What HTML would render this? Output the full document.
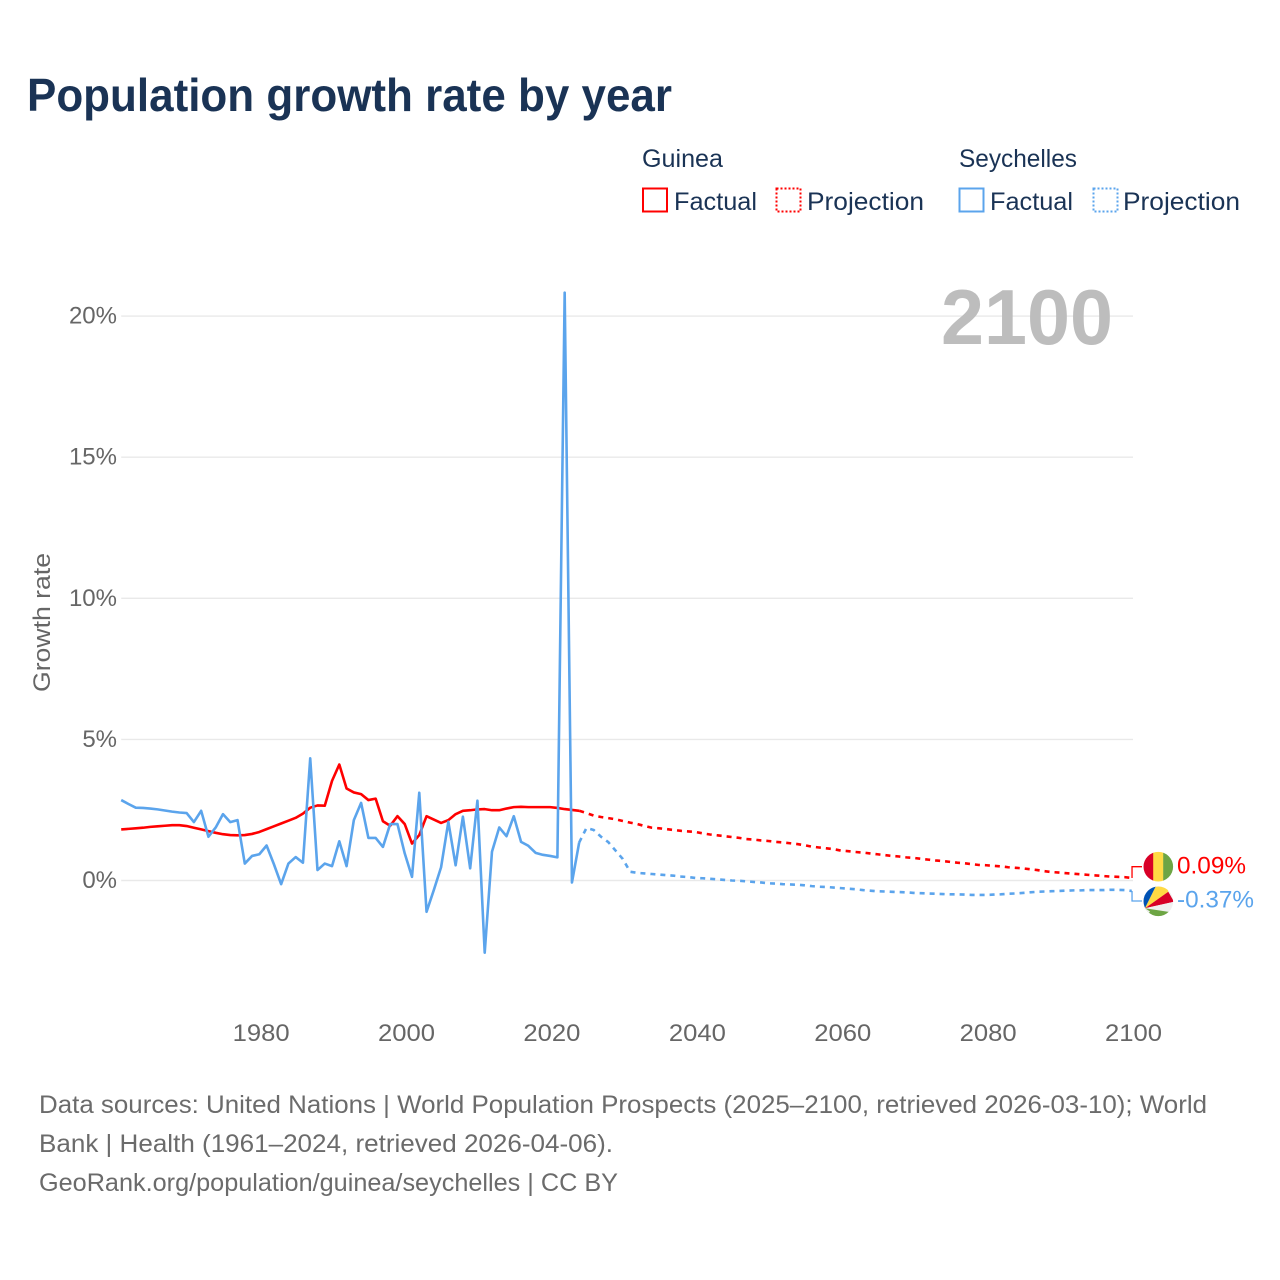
<!DOCTYPE html>
<html lang="en">
<head>
<meta charset="utf-8">
<title>Population growth rate by year</title>
<style>
html,body{margin:0;padding:0;background:#fff;width:1280px;height:1280px;overflow:hidden}
svg{display:block}
text{font-family:"Liberation Sans",sans-serif}
.tick{font-size:24px;fill:#666}
.legend{font-size:25px;fill:#1a3355}
.foot{font-size:25px;fill:#6b6b6b}
</style>
</head>
<body>
<svg id="chart" width="1280" height="1280" viewBox="0 0 1280 1280" xmlns="http://www.w3.org/2000/svg">
  <rect x="0" y="0" width="1280" height="1280" fill="#fff"/>
  <text x="27" y="111" font-size="46" font-weight="700" fill="#1a3355" textLength="645" lengthAdjust="spacingAndGlyphs">Population growth rate by year</text>

  <g>
    <text class="legend" x="642" y="167" textLength="81" lengthAdjust="spacingAndGlyphs">Guinea</text>
    <text class="legend" x="959" y="167" textLength="118" lengthAdjust="spacingAndGlyphs">Seychelles</text>
    <rect x="643" y="188.5" width="24" height="23" fill="none" stroke="#ff0000" stroke-width="2"/>
    <text class="legend" x="674" y="210" textLength="83" lengthAdjust="spacingAndGlyphs">Factual</text>
    <rect x="776.5" y="188.5" width="24" height="23" fill="none" stroke="#ff0000" stroke-width="2" stroke-dasharray="2 2"/>
    <text class="legend" x="807" y="210" textLength="117" lengthAdjust="spacingAndGlyphs">Projection</text>
    <rect x="959.5" y="188.5" width="24" height="23" fill="none" stroke="#5ba4ec" stroke-width="2"/>
    <text class="legend" x="990" y="210" textLength="83" lengthAdjust="spacingAndGlyphs">Factual</text>
    <rect x="1093.5" y="188.5" width="24" height="23" fill="none" stroke="#5ba4ec" stroke-width="2" stroke-dasharray="2 2"/>
    <text class="legend" x="1123" y="210" textLength="117" lengthAdjust="spacingAndGlyphs">Projection</text>
  </g>

  <g id="grid"></g>
  <g id="yticks"></g>
  <g id="xticks"></g>
  <text transform="translate(50,622.5) rotate(-90)" text-anchor="middle" font-size="24.5" fill="#666" textLength="139" lengthAdjust="spacingAndGlyphs">Growth rate</text>
  <text x="941" y="344" font-size="78" font-weight="700" fill="#bdbdbd" textLength="172" lengthAdjust="spacingAndGlyphs">2100</text>

  <g id="series"></g>

  <defs>
    <clipPath id="flag-clip-guinea"><circle cx="1158.3" cy="866.7" r="14.8"/></clipPath>
    <clipPath id="flag-clip-seychelles"><circle cx="1158.3" cy="901.3" r="14.8"/></clipPath>
  </defs>
  <g clip-path="url(#flag-clip-guinea)">
    <rect x="1143" y="851" width="10.5" height="32" fill="#d80027"/>
    <rect x="1153.2" y="851" width="10.2" height="32" fill="#ffda44"/>
    <rect x="1163.2" y="851" width="10.5" height="32" fill="#6da544"/>
  </g>
  <g clip-path="url(#flag-clip-seychelles)">
    <rect x="1143" y="886" width="31" height="31" fill="#f0f0f0"/>
    <polygon points="1145,908.3 1140,908 1140,884 1157,884" fill="#0052b4"/>
    <polygon points="1145,908.3 1157,884 1166,884 1168.3,891.7" fill="#ffda44"/>
    <polygon points="1145,908.3 1168.3,891.7 1174,901.7" fill="#d80027"/>
    <polygon points="1145,908.3 1174,901.7 1174,912.7" fill="#f0f0f0"/>
    <polygon points="1145,908.3 1174,912.7 1174,920 1145,920" fill="#6da544"/>
    <polygon points="1145,908.3 1150,911.5 1146,916 1142,916" fill="#f0f0f0"/>
  </g>

  <g>
    <text class="foot" x="39" y="1113" textLength="1168" lengthAdjust="spacingAndGlyphs">Data sources: United Nations | World Population Prospects (2025–2100, retrieved 2026-03-10); World</text>
    <text class="foot" x="39" y="1152" textLength="574" lengthAdjust="spacingAndGlyphs">Bank | Health (1961–2024, retrieved 2026-04-06).</text>
    <text class="foot" x="39" y="1191" textLength="579" lengthAdjust="spacingAndGlyphs">GeoRank.org/population/guinea/seychelles | CC BY</text>
  </g>
</svg>
<script>
const factualStartYear = 1961;
const projectionStartYear = 2025;
const yTickValues = [0, 5, 10, 15, 20];
const xTickYears = [1980, 2000, 2020, 2040, 2060, 2080, 2100];
const guineaFactual = [
  1.81,1.83,1.85,1.87,1.90,1.92,1.94,1.96,1.96,1.93,
  1.87,1.81,1.75,1.69,1.64,1.61,1.60,1.61,1.65,1.72,
  1.82,1.92,2.02,2.12,2.22,2.37,2.58,2.66,2.65,3.53,
  4.11,3.26,3.12,3.06,2.85,2.90,2.10,1.94,2.28,2.00,
  1.31,1.61,2.28,2.16,2.04,2.14,2.35,2.47,2.49,2.52,
  2.53,2.49,2.49,2.55,2.60,2.61,2.60,2.60,2.60,2.60,
  2.57,2.53,2.50,2.47
];
const seychellesFactual = [
  2.85,2.71,2.58,2.57,2.55,2.52,2.48,2.44,2.41,2.39,
  2.07,2.47,1.55,1.88,2.35,2.07,2.14,0.60,0.87,0.93,
  1.24,0.58,-0.13,0.60,0.83,0.63,4.33,0.37,0.60,0.51,
  1.39,0.51,2.14,2.75,1.51,1.51,1.19,2.00,2.00,0.96,
  0.13,3.11,-1.11,-0.34,0.47,2.08,0.54,2.26,0.43,2.83,
  -2.56,1.02,1.88,1.57,2.28,1.37,1.23,0.98,0.91,0.87,
  0.82,20.83,-0.07,1.35
];
const guineaProjection = [
  2.39,2.30,2.25,2.21,2.17,2.11,2.05,2.00,1.93,1.87,
  1.85,1.82,1.79,1.76,1.74,1.72,1.67,1.63,1.60,1.57,
  1.54,1.51,1.47,1.45,1.42,1.40,1.37,1.35,1.32,1.29,
  1.25,1.20,1.17,1.14,1.11,1.06,1.04,1.01,0.99,0.96,
  0.93,0.90,0.87,0.85,0.82,0.80,0.77,0.74,0.71,0.69,
  0.66,0.63,0.61,0.58,0.55,0.54,0.52,0.50,0.47,0.45,
  0.43,0.40,0.37,0.33,0.30,0.28,0.26,0.24,0.22,0.20,
  0.18,0.16,0.14,0.13,0.12,0.09
];
const seychellesProjection = [
  1.86,1.79,1.55,1.36,1.06,0.76,0.31,0.27,0.25,0.23,
  0.21,0.19,0.17,0.14,0.12,0.09,0.08,0.06,0.04,0.02,
  0.00,-0.01,-0.03,-0.05,-0.07,-0.10,-0.11,-0.13,-0.14,-0.15,
  -0.17,-0.20,-0.22,-0.23,-0.25,-0.27,-0.29,-0.31,-0.34,-0.36,
  -0.38,-0.39,-0.40,-0.41,-0.42,-0.44,-0.45,-0.46,-0.47,-0.48,
  -0.49,-0.49,-0.50,-0.51,-0.51,-0.51,-0.50,-0.49,-0.47,-0.46,
  -0.44,-0.42,-0.40,-0.39,-0.38,-0.37,-0.36,-0.35,-0.35,-0.34,
  -0.34,-0.34,-0.33,-0.33,-0.34,-0.37
];

const SVG_NS = 'http://www.w3.org/2000/svg';
const RED = '#ff0000';
const BLUE = '#5ba4ec';
function xScale(year) { return 121.2 + (year - 1961) * 7.27; }
function yScale(pct) { return 880.5 - pct * 28.22; }
function make(tag, parent, attrs) {
  const el = document.createElementNS(SVG_NS, tag);
  for (const k in attrs) el.setAttribute(k, attrs[k]);
  parent.appendChild(el);
  return el;
}
function pathFrom(startYear, values) {
  return values.map(function (v, i) {
    return (i ? 'L' : 'M') + xScale(startYear + i).toFixed(2) + ' ' + yScale(v).toFixed(2);
  }).join(' ');
}

const grid = document.getElementById('grid');
const yticks = document.getElementById('yticks');
yTickValues.forEach(function (v) {
  const line = make('line', grid, { x1: xScale(factualStartYear), x2: 1133, y1: yScale(v), y2: yScale(v), stroke: '#e9e9e9', 'stroke-width': 1.4 });
  
  
  const t = make('text', yticks, { x: 117, y: yScale(v) + 7.5, 'text-anchor': 'end', class: 'tick' });
  
  
  t.textContent = v + '%';
});

const xticks = document.getElementById('xticks');
xTickYears.forEach(function (y) {
  const t = make('text', xticks, { x: xScale(y) + 1.8, y: 1041, 'text-anchor': 'middle', class: 'tick', textLength: 57, lengthAdjust: 'spacingAndGlyphs' });
  
  
  t.textContent = String(y);
});

const series = document.getElementById('series');
const lastFactualYear = factualStartYear + guineaFactual.length - 1;
const lastProjectionYear = projectionStartYear + guineaProjection.length - 1;

const gFact = make('path', series, { d: pathFrom(factualStartYear, guineaFactual), fill: 'none', stroke: RED, 'stroke-width': 2.6, 'stroke-linejoin': 'round' });



const gProj = make('path', series, { d: pathFrom(lastFactualYear, [guineaFactual[guineaFactual.length - 1]].concat(guineaProjection)), fill: 'none', stroke: RED, 'stroke-width': 2.6, 'stroke-dasharray': '5 5' });



const sFact = make('path', series, { d: pathFrom(factualStartYear, seychellesFactual), fill: 'none', stroke: BLUE, 'stroke-width': 2.6, 'stroke-linejoin': 'round' });



const sProj = make('path', series, { d: pathFrom(lastFactualYear, [seychellesFactual[seychellesFactual.length - 1]].concat(seychellesProjection)), fill: 'none', stroke: BLUE, 'stroke-width': 2.6, 'stroke-dasharray': '5 5' });



const gEnd = guineaProjection[guineaProjection.length - 1];
const sEnd = seychellesProjection[seychellesProjection.length - 1];
const endX = xScale(lastProjectionYear) + 0.3;

const gConn = make('path', series, { d: 'M' + endX + ' ' + yScale(gEnd) + ' V866.7 H1142', fill: 'none', stroke: RED, 'stroke-width': 1.3 });



const sConn = make('path', series, { d: 'M' + endX + ' ' + yScale(sEnd) + ' V901 H1142', fill: 'none', stroke: BLUE, 'stroke-width': 1.3 });



const gLabel = make('text', series, { x: 1177, y: 873.5, 'font-size': 24.5, fill: RED, textLength: 69, lengthAdjust: 'spacingAndGlyphs' });


gLabel.textContent = gEnd.toFixed(2) + '%';

const sLabel = make('text', series, { x: 1177, y: 907.5, 'font-size': 24.5, fill: BLUE, textLength: 77, lengthAdjust: 'spacingAndGlyphs' });


sLabel.textContent = sEnd.toFixed(2) + '%';
</script>
</body>
</html>
